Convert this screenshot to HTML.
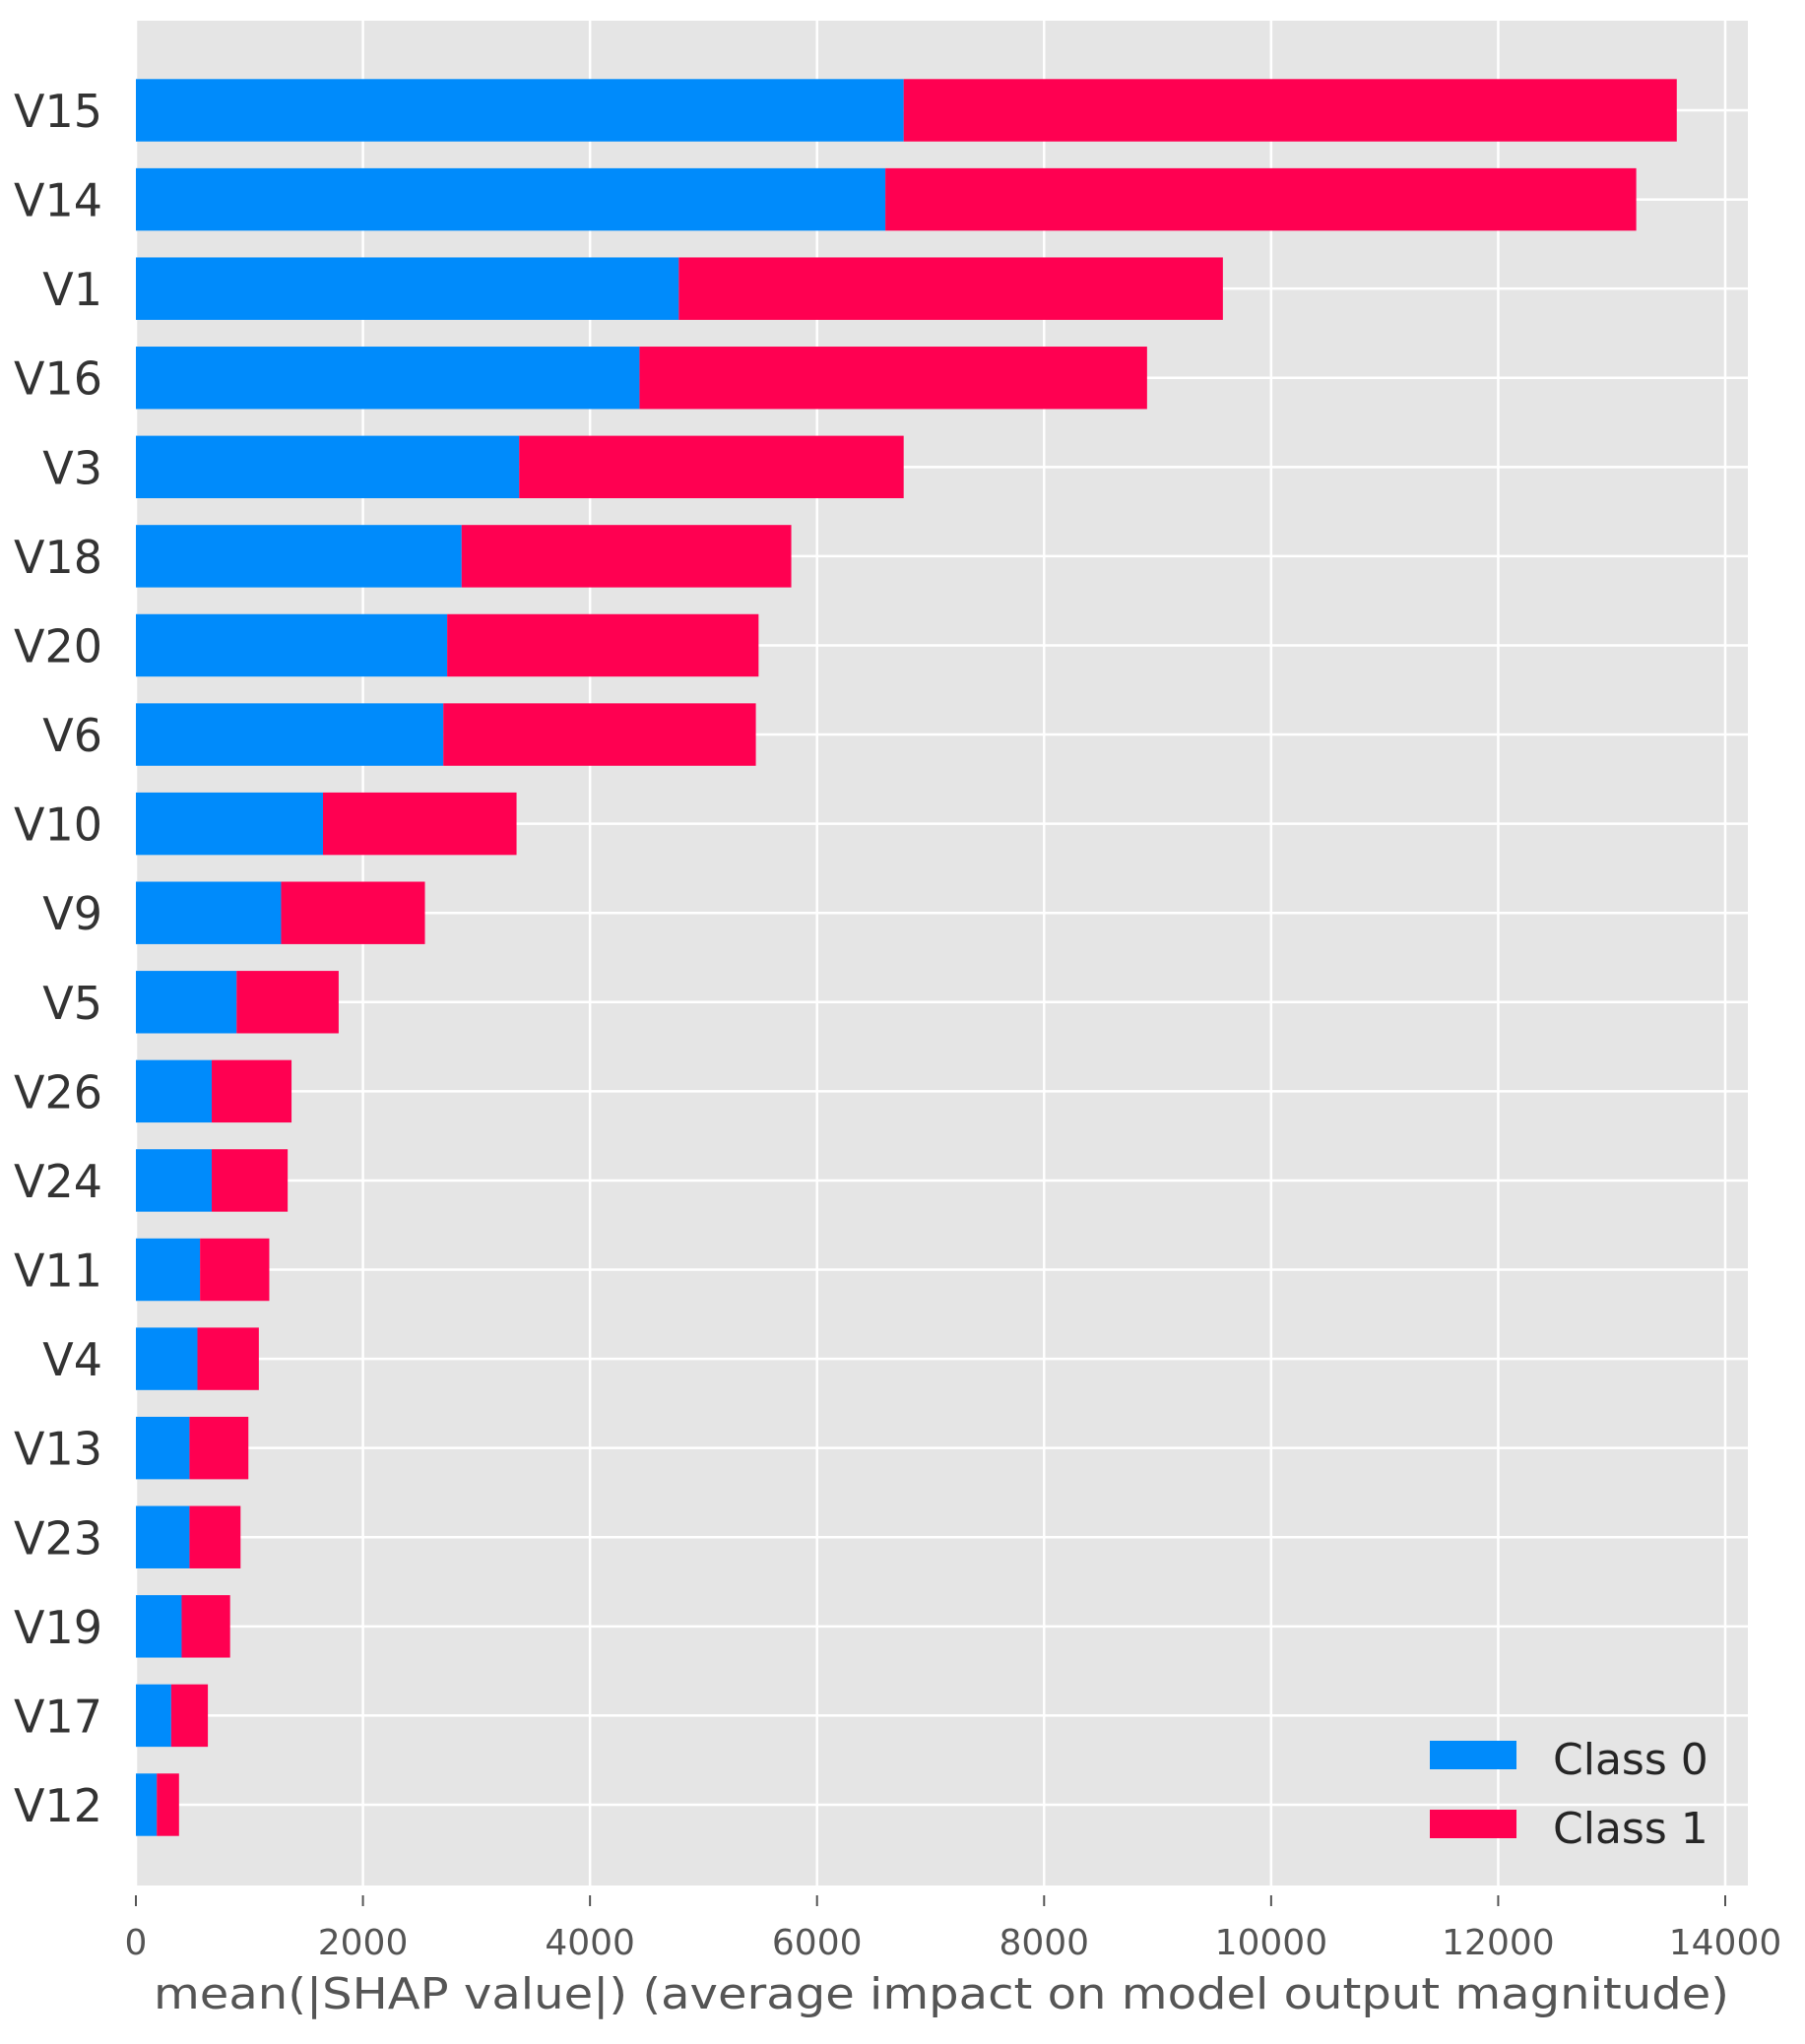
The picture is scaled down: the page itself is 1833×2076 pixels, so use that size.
<!DOCTYPE html>
<html><head><meta charset="utf-8"><style>
html,body{margin:0;padding:0;background:#fff;}
svg{display:block;font-family:"DejaVu Sans","Liberation Sans",sans-serif;}
</style></head><body>
<svg id="chart" width="1833" height="2076" viewBox="0 0 1833 2076" xmlns="http://www.w3.org/2000/svg">
<rect x="138" y="21" width="1637" height="1894" fill="#e5e5e5"/>
<g id="grid"></g><g id="bars"></g><g id="yticks"></g><g id="xticks"></g>
<text x="956" y="2040" text-anchor="middle" font-size="44" textLength="1600" lengthAdjust="spacingAndGlyphs" fill="#555">mean(|SHAP value|) (average impact on model output magnitude)</text>
<g>
<rect x="1452" y="1768" width="88" height="29" fill="#008bfb"/>
<text x="1577" y="1802" font-size="44" fill="#262626">Class 0</text>
<rect x="1452" y="1838" width="88" height="29" fill="#ff0051"/>
<text x="1577" y="1872" font-size="44" fill="#262626">Class 1</text>
</g>
</svg>
<script>
const features = ["V15","V14","V1","V16","V3","V18","V20","V6","V10","V9","V5","V26","V24","V11","V4","V13","V23","V19","V17","V12"];
const class0 = [6763,6602,4782,4436,3376,2869,2742,2708,1648,1279,887,668,668,565,542,472,472,403,311,184];
const class1 = [6810,6614,4793,4471,3387,2904,2743,2753,1705,1267,899,703,669,610,541,519,450,427,323,196];
const xTicks = [0,2000,4000,6000,8000,10000,12000,14000];
const NS="http://www.w3.org/2000/svg";
const x0=138, xPer=(1752-138)/14000;
const xs=v=>x0+v*xPer;
const yTop=112, yStep=(1833-112)/(features.length-1);
const ys=i=>yTop+i*yStep;
const bh=yStep*0.7;
function mk(tag,attrs,parent){const e=document.createElementNS(NS,tag);for(const k in attrs)e.setAttribute(k,attrs[k]);document.getElementById(parent).appendChild(e);return e;}
xTicks.forEach(t=>{
  const g=mk('line',{x1:xs(t),x2:xs(t),y1:21,y2:1915,stroke:'#fff','stroke-width':2.5},'grid');
  
  
  const tk=mk('line',{x1:xs(t),x2:xs(t),y1:1925,y2:1936,stroke:'#555','stroke-width':2},'xticks');
  
  
  const tl=mk('text',{x:xs(t),y:1985,'text-anchor':'middle','font-size':36,fill:'#555'},'xticks');
  tl.textContent=t;
  
  
});
features.forEach((f,i)=>{
  const c=ys(i);
  const gl=mk('line',{x1:138,x2:1775,y1:c,y2:c,stroke:'#fff','stroke-width':2.5},'grid');
  
  
  const b0=mk('rect',{x:xs(0),y:c-bh/2,width:xs(class0[i])-xs(0),height:bh,fill:'#008bfb'},'bars');
  
  
  const b1=mk('rect',{x:xs(class0[i]),y:c-bh/2,width:xs(class0[i]+class1[i])-xs(class0[i]),height:bh,fill:'#ff0051'},'bars');
  
  
  const yl=mk('text',{x:104,y:c+17,'text-anchor':'end','font-size':46,fill:'#333'},'yticks');
  yl.textContent=f;
  
  
});
</script>
</body></html>
